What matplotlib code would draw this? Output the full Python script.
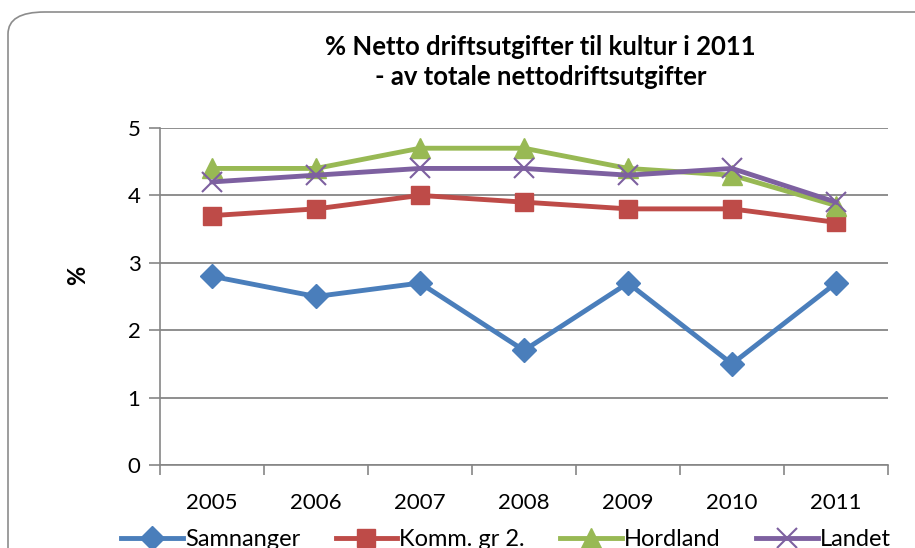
import matplotlib.pyplot as plt
from matplotlib.patches import FancyBboxPatch

plt.rcParams['font.family'] = ['Lato', 'DejaVu Sans']

years = ['2005', '2006', '2007', '2008', '2009', '2010', '2011']
samnanger = [2.8, 2.5, 2.7, 1.7, 2.7, 1.5, 2.7]
komm = [3.7, 3.8, 4.0, 3.9, 3.8, 3.8, 3.6]
hordland = [4.4, 4.4, 4.7, 4.7, 4.4, 4.3, 3.85]
landet = [4.2, 4.3, 4.4, 4.4, 4.3, 4.4, 3.9]

fig = plt.figure(figsize=(9.15, 5.48), dpi=100)

# rounded chart frame, runs off the right and bottom
frame = FancyBboxPatch((8 / 915, -0.2), 1.2, 0.2 + (548 - 12) / 548,
                       boxstyle='round,pad=0,rounding_size=0.04',
                       transform=fig.transFigure, facecolor='white',
                       edgecolor='#8c8c8c', linewidth=1.2, zorder=-5)
fig.patches.append(frame)

ax = fig.add_axes([160 / 915, 83 / 548, 728 / 915, 337 / 548])
ax.set_facecolor('none')
x = list(range(len(years)))

ax.plot(x, samnanger, color='#4A7EBB', lw=3.5, marker='D', ms=12, label='Samnanger')
ax.plot(x, komm, color='#BE4B48', lw=3.5, marker='s', ms=13, label='Komm. gr 2.')
ax.plot(x, hordland, color='#98B954', lw=3.5, marker='^', ms=14, label='Hordland')
ax.plot(x, landet, color='#7D60A0', lw=3.5, marker='x', ms=14, mew=1.5, label='Landet')

ax.set_xlim(-0.5, 6.5)
ax.set_ylim(0, 5)
ax.set_yticks([0, 1, 2, 3, 4, 5])
ax.set_xticks(x)
ax.set_xticklabels(years)
ax.set_xticks([i - 0.5 for i in range(8)], minor=True)
ax.tick_params(axis='x', which='major', length=0, pad=20, labelsize=16)
ax.tick_params(axis='x', which='minor', length=7, color='#868686', width=1.2)
ax.tick_params(axis='y', length=8, color='#868686', width=1.2, labelsize=16, pad=6)
ax.grid(axis='y', color='#868686', lw=1.3)
ax.set_axisbelow(True)
for s in ['top', 'right']:
    ax.spines[s].set_visible(False)
ax.spines['left'].set_color('#868686')
ax.spines['bottom'].set_color('#868686')
ax.spines['left'].set_linewidth(1.2)
ax.spines['bottom'].set_linewidth(1.2)

ax.set_ylabel('%', fontsize=17, fontweight='bold')
ax.yaxis.set_label_coords(-0.098, 0.564)

fig.text(0.591, 0.887, '% Netto driftsutgifter til kultur i 2011\n- av totale nettodriftsutgifter',
         ha='center', va='center', fontsize=18.5, fontweight='bold', linespacing=1.3)

fig.legend(loc='center', bbox_to_anchor=(0.553, 0.015), ncol=4, frameon=False,
           fontsize=17, handlelength=2.6, handletextpad=0.1, columnspacing=1.5)

fig.savefig('out.png', dpi=100)
